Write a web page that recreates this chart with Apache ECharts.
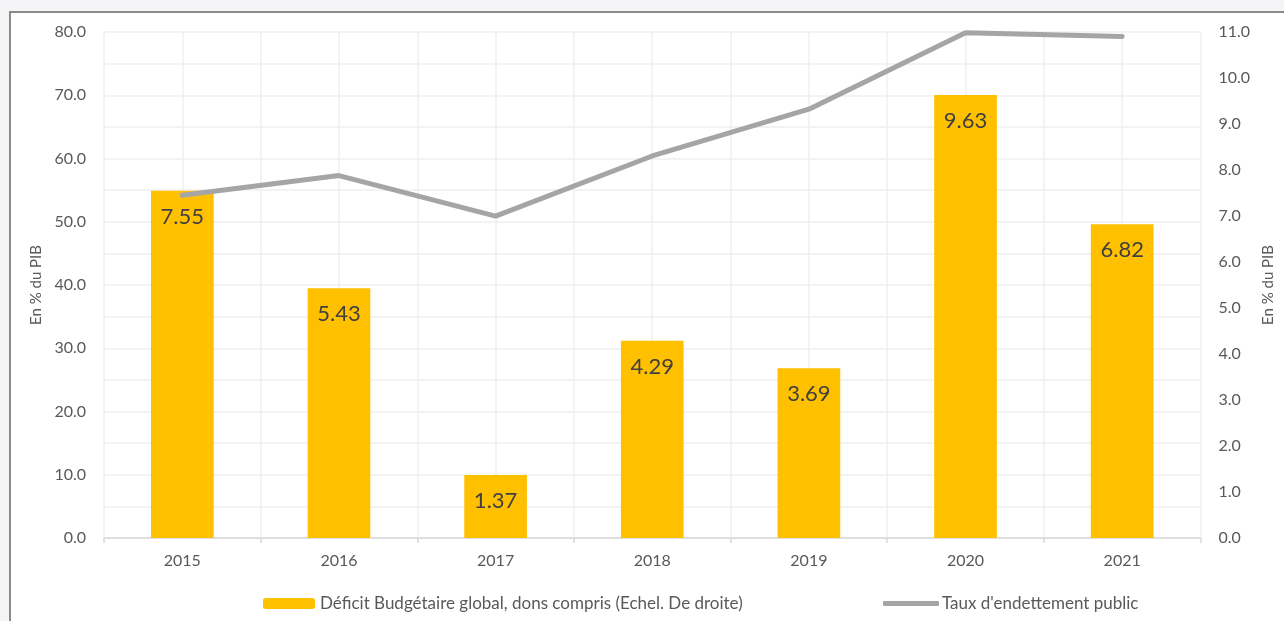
<!DOCTYPE html>
<html>
<head>
<meta charset="utf-8">
<script src="https://cdn.jsdelivr.net/npm/echarts@6/dist/echarts.min.js"></script>
<style>
html,body{margin:0;padding:0;background:#f5f5f7;}
#c{width:1284px;height:621px;}
</style>
</head>
<body>
<div id="c"></div>
<script>
const years = ['2015','2016','2017','2018','2019','2020','2021'];
const deficit = [7.55, 5.43, 1.37, 4.29, 3.69, 9.63, 6.82];
const debt = [54.2, 57.3, 50.9, 60.4, 67.8, 79.9, 79.3];
const barName = 'Déficit Budgétaire global, dons compris (Echel. De droite)';
const lineName = "Taux d'endettement public";
const axisName = 'En % du PIB';

const FONT = 'Lato';
const TXT = '#595959';
const chart = echarts.init(document.getElementById('c'), null, {renderer:'canvas'});
chart.setOption({
  backgroundColor: '#f5f5f7',
  textStyle: {fontFamily: FONT},
  graphic: [{
    type: 'rect', z: -10, silent: true,
    shape: {x: 10, y: 12, width: 1300, height: 640},
    style: {fill: '#ffffff', stroke: '#8a8a8a', lineWidth: 2}
  }],
  grid: {left: 104, right: 78, top: 32, bottom: 83},
  legend: [{
    data: [barName], left: 258, top: 590, itemWidth: 52, itemHeight: 11, itemGap: 6,
    textStyle: {fontFamily: FONT, fontSize: 17, color: TXT}
  }, {
    data: [{name: lineName, icon: 'roundRect'}], left: 878, top: 590, itemWidth: 56, itemHeight: 5,
    textStyle: {fontFamily: FONT, fontSize: 17, color: TXT, padding: [0,0,0,-2]},
    itemStyle: {color: '#a5a5a5'}
  }],
  xAxis: [{
    type: 'category', data: years, boundaryGap: true,
    axisLine: {lineStyle: {color: '#d9d9d9', width: 1.5}},
    axisTick: {show: true, length: 5, lineStyle: {color: '#d9d9d9', width: 1.5}},
    axisLabel: {color: TXT, fontSize: 16, margin: 15, fontFamily: FONT},
    splitLine: {show: false}
  }, {
    type: 'value', min: 0, max: 14, interval: 1, position: 'bottom',
    axisLine: {show: false}, axisTick: {show: false}, axisLabel: {show: false},
    splitLine: {show: true, lineStyle: {color: '#efefef', width: 1.5}}
  }],
  yAxis: [{
    type: 'value', min: 0, max: 80, interval: 10, position: 'left',
    name: axisName, nameLocation: 'middle', nameRotate: 90, nameGap: 58,
    nameTextStyle: {color: TXT, fontSize: 15, fontFamily: FONT},
    axisLine: {show: false}, axisTick: {show: false},
    axisLabel: {color: TXT, fontSize: 16, margin: 18, fontFamily: FONT,
      formatter: v => v.toFixed(1)},
    splitLine: {show: true, lineStyle: {color: '#efefef', width: 1.5}},
    minorTick: {show: false, splitNumber: 2},
    minorSplitLine: {show: true, lineStyle: {color: '#efefef', width: 1.5}}
  }, {
    type: 'value', min: 0, max: 11, interval: 1, position: 'right',
    name: axisName, nameLocation: 'middle', nameRotate: 90, nameGap: 59,
    nameTextStyle: {color: TXT, fontSize: 15, fontFamily: FONT},
    axisLine: {show: false}, axisTick: {show: false},
    axisLabel: {color: TXT, fontSize: 16, margin: 18, fontFamily: FONT,
      formatter: v => v.toFixed(1)},
    splitLine: {show: false}
  }],
  series: [{
    name: barName, type: 'bar', data: deficit, xAxisIndex: 0, yAxisIndex: 1,
    barWidth: '40%',
    itemStyle: {color: '#ffc000'},
    label: {show: true, position: 'insideTop', distance: 15, fontSize: 22,
      color: '#404040', fontFamily: FONT, formatter: p => p.value.toFixed(2)},
    z: 2
  }, {
    name: lineName, type: 'line', data: debt, xAxisIndex: 0, yAxisIndex: 0,
    symbol: 'none', showSymbol: false,
    lineStyle: {color: '#a5a5a5', width: 5, cap: 'round', join: 'round'},
    itemStyle: {color: '#a5a5a5'},
    z: 3
  }]
});
</script>
</body>
</html>
